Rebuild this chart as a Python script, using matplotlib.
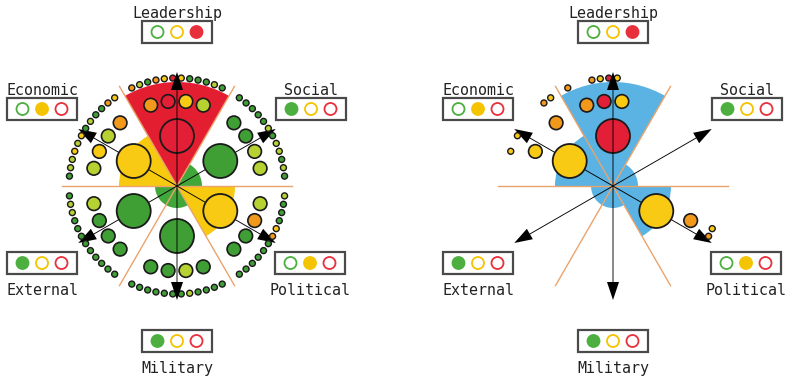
import numpy as np
import matplotlib.pyplot as plt
from matplotlib.patches import Wedge, Circle, Rectangle

# dimensions, clockwise from the top
dims = ['Leadership', 'Social', 'Political', 'Military', 'External', 'Economic']
status = ['r', 'g', 'y', 'g', 'g', 'y']        # main node / traffic light
reach = [104, 25, 58, 22, 22, 58]               # extent of the shaded sector
# second level nodes (4 per dimension, counter-clockwise order)
sub_nodes = [
    ['yg', 'y', 'r', 'o'],
    ['yg', 'yg', 'g', 'g'],
    ['g', 'g', 'o', 'yg'],
    ['g', 'g', 'yg', 'g'],
    ['yg', 'g', 'g', 'g'],
    ['o', 'yg', 'y', 'yg'],
]
# third level nodes (12 per dimension, counter-clockwise order)
leaf_nodes = [
    ['g', 'yg', 'g', 'g', 'g', 'y', 'r', 'y', 'o', 'g', 'yg', 'o'],
    ['g', 'yg', 'g', 'yg', 'yg', 'g', 'yg', 'g', 'g', 'g', 'g', 'g'],
    ['g', 'g', 'g', 'g', 'g', 'g', 'o', 'y', 'g', 'g', 'g', 'yg'],
    ['g', 'g', 'g', 'g', 'g', 'g', 'g', 'yg', 'g', 'g', 'g', 'g'],
    ['g', 'yg', 'yg', 'g', 'g', 'g', 'g', 'g', 'g', 'g', 'g', 'g'],
    ['y', 'o', 'g', 'g', 'yg', 'g', 'y', 'yg', 'y', 'yg', 'yg', 'g'],
]

dim_angle = [90, 30, -30, -90, -150, 150]
legend_pos = [(0, 154), (134, 77), (133, -77), (0, -155), (-135, -77), (-135, 77)]

node_col = {'g': '#3f9f35', 'yg': '#b6d232', 'y': '#f8ca14', 'o': '#f2991c', 'r': '#e21f36'}
sector_col = {'g': '#42a73a', 'y': '#f7c90f', 'r': '#e41e31'}
light_col = ['#4caf3f', '#f5c400', '#e8303c']
blue = '#5ab3e3'
edge = '#1a1a1a'
font = dict(family='DejaVu Sans Mono', fontsize=10.8, color='#222222')


def pol(r, a):
    return r * np.cos(np.radians(a)), r * np.sin(np.radians(a))


def draw_panel(ax, filtered):
    ax.set_xlim(-177, 177)
    ax.set_ylim(-191, 186)
    ax.axis('off')

    # shaded sectors
    for k, a in enumerate(dim_angle):
        fc = blue if filtered else sector_col[status[k]]
        ax.add_patch(Wedge((0, 0), reach[k], a - 30, a + 30, fc=fc, ec='none', zorder=1))

    # sector boundaries
    for b in range(0, 360, 60):
        x, y = pol(115, b)
        ax.plot([0, x], [0, y], color='#eba36c', lw=1.0, zorder=1.5)

    for k, a in enumerate(dim_angle):
        # axis arrow
        x, y = pol(114, a)
        zo = 6 if a in (90, -90) else 2
        ax.arrow(0, 0, x, y, width=0.9, head_width=12, head_length=18,
                 length_includes_head=True, fc='k', ec='k', lw=0, zorder=zo)

        show = lambda c: (not filtered) or c in ('y', 'o', 'r')

        if show(status[k]):
            ax.add_patch(Circle(pol(50, a), 17, fc=node_col[status[k]], ec=edge, lw=1.3, zorder=3))
        for j, c in enumerate(sub_nodes[k]):
            if show(c):
                ax.add_patch(Circle(pol(85, a + (-18, -6, 6, 18)[j]), 6.8,
                                    fc=node_col[c], ec=edge, lw=1.2, zorder=3))
        for i, c in enumerate(leaf_nodes[k]):
            if show(c):
                ax.add_patch(Circle(pol(108, a + (i - 5.5) * 4.5), 3.0,
                                    fc=node_col[c], ec=edge, lw=1.0, zorder=3))

    # traffic light legends
    lights = {'g': 0, 'y': 1, 'r': 2}
    for k, (cx, cy) in enumerate(legend_pos):
        ax.add_patch(Rectangle((cx - 35, cy - 11), 70, 22, fc='white', ec='#4a4a4a', lw=1.6, zorder=4))
        for j in range(3):
            on = lights[status[k]] == j
            ax.add_patch(Circle((cx + (j - 1) * 19.5, cy), 6.0,
                                fc=light_col[j] if on else 'white',
                                ec=light_col[j], lw=1.3, zorder=5))
        if cy > 0:
            ax.text(cx, cy + 14, dims[k], ha='center', va='baseline', **font)
        else:
            ax.text(cx, cy - 32, dims[k], ha='center', va='baseline', **font)


fig = plt.figure(figsize=(7.89, 3.77), dpi=100)
ax1 = fig.add_axes([0, 0, 354 / 789, 1])
ax2 = fig.add_axes([436 / 789, 0, 354 / 789, 1])
draw_panel(ax1, False)
draw_panel(ax2, True)
fig.savefig('out.png', dpi=100)
